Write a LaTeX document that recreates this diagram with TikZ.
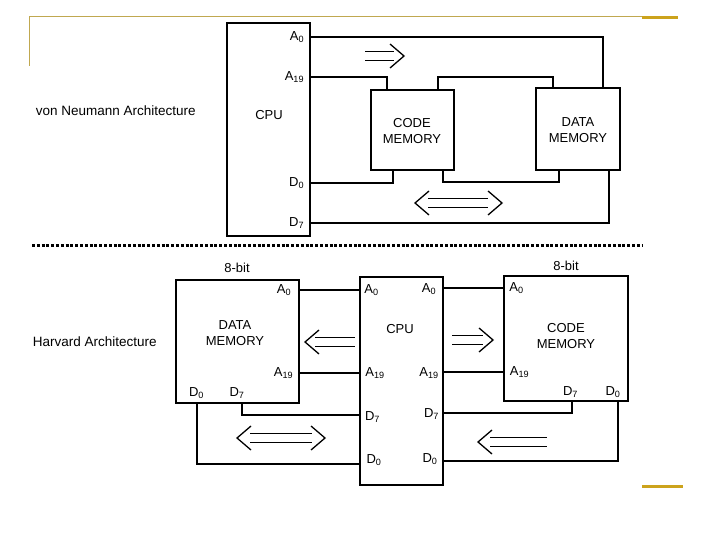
\documentclass[tikz,border=0pt]{standalone}
\usepackage{fontspec}
\setmainfont{Liberation Sans}
\definecolor{slidegold}{RGB}{204,163,28}
\definecolor{slideline}{RGB}{192,168,80}

\begin{document}
\begin{tikzpicture}[x=1pt, y=-1pt, line width=1.8pt,
        box/.style={draw, line width=2pt, inner sep=0pt},
        txt/.style={align=center, inner sep=0pt, font=\fontsize{13}{16}\selectfont},
        pin/.style={inner sep=0pt, font=\fontsize{13}{15}\selectfont},
        ttl/.style={anchor=west, inner sep=0pt, font=\fontsize{13.5}{16}\selectfont},
        bus/.style={line width=1.8pt},
        shaft/.style={double, double distance=7.5pt, line width=1.3pt},
        head/.style={line width=1.3pt},
        sep/.style={line width=3pt, dash pattern=on 3pt off 1.8pt}]

    \useasboundingbox (0,0) rectangle (720,540);

    % --- ramka slajdu ---
    \draw[slideline, line width=1pt] (29,66) -- (29,17) -- (642,17);
    \draw[slidegold, line width=3pt] (642,17.5) -- (678,17.5);
    \draw[slidegold, line width=3pt] (642,486) -- (683,486);

    % --- von Neumann: bloki ---
    \node[ttl] (vnT) at (35,111) {von Neumann Architecture};
    \node[box, minimum width=83pt, minimum height=213pt] (cpuT) at (268.5,129.5) {};
    \node[box, minimum width=83pt, minimum height=80pt] (codeT) at (412.5,130) {};
    \node[box, minimum width=84pt, minimum height=82pt] (dataT) at (578,129) {};
    \node[txt] (cpuTtxt) at (269,115) {CPU};
    \node[txt] (codeTtxt) at (412,131) {CODE\\MEMORY};
    \node[txt] (dataTtxt) at (578,130) {DATA\\MEMORY};

    % --- von Neumann: wyprowadzenia CPU ---
    \foreach \n/\t/\y in {a0T/A\textsubscript{0}/37, a19T/A\textsubscript{19}/77,
                          d0T/D\textsubscript{0}/183, d7T/D\textsubscript{7}/223} {
        \node[pin, anchor=east] (\n) at (305,\y) {\t};
    }

    % --- von Neumann: magistrale ---
    \coordinate (a0bend) at (603,37);
    \coordinate (a19bend) at (387,77);
    \coordinate (d0bend) at (393,183);
    \coordinate (d7bend) at (609,223);
    \coordinate (lnkA1) at (438,77);
    \coordinate (lnkA2) at (553,77);
    \coordinate (lnkB1) at (443,182);
    \coordinate (lnkB2) at (559,182);
    \draw[bus] (cpuT.east |- a0T) -| (dataT.north -| a0bend);
    \draw[bus] (cpuT.east |- a19T) -| (codeT.north -| a19bend);
    \draw[bus] (codeT.north -| lnkA1) -- (lnkA1) -- (lnkA2) -- (dataT.north -| lnkA2);
    \draw[bus] (cpuT.east |- d0T) -| (codeT.south -| d0bend);
    \draw[bus] (codeT.south -| lnkB1) -- (lnkB1) -- (lnkB2) -- (dataT.south -| lnkB2);
    \draw[bus] (cpuT.east |- d7T) -| (dataT.south -| d7bend);

    % --- separator ---
    \coordinate (sepL) at (32,245);
    \coordinate (sepR) at (642,245);
    \draw[sep] (sepL) -- (sepR);

    % --- Harvard: bloki ---
    \node[ttl] (hvH) at (32,342) {Harvard Architecture};
    \node[box, minimum width=123pt, minimum height=123pt] (dataH) at (237.5,341.5) {};
    \node[box, minimum width=83pt, minimum height=208pt] (cpuH) at (401.5,381) {};
    \node[box, minimum width=124pt, minimum height=125pt] (codeH) at (566,338.5) {};
    \node[txt] (dataHtxt) at (235,333) {DATA\\MEMORY};
    \node[txt] (cpuHtxt) at (400,329) {CPU};
    \node[txt] (codeHtxt) at (566,336) {CODE\\MEMORY};
    \node[txt] (bitD) at (237,268) {8-bit};
    \node[txt] (bitC) at (566,266) {8-bit};

    % --- Harvard: wyprowadzenia ---
    \foreach \n/\t/\x/\y in {a0D/A\textsubscript{0}/284/290, a19D/A\textsubscript{19}/283.5/373,
                             d0D/D\textsubscript{0}/196.5/393, d7D/D\textsubscript{7}/237/393,
                             a0L/A\textsubscript{0}/371.5/290, a19L/A\textsubscript{19}/375/373,
                             d7L/D\textsubscript{7}/372.5/417, d0L/D\textsubscript{0}/374/460,
                             a0R/A\textsubscript{0}/429/289, a19R/A\textsubscript{19}/429/373,
                             d7R/D\textsubscript{7}/431.5/414, d0R/D\textsubscript{0}/430/459,
                             a0C/A\textsubscript{0}/516.5/288, a19C/A\textsubscript{19}/519.5/372,
                             d7C/D\textsubscript{7}/570.5/392, d0C/D\textsubscript{0}/613/392} {
        \node[pin] (\n) at (\x,\y) {\t};
    }

    % --- Harvard: magistrale ---
    \coordinate (d7Dbend) at (242,415);
    \coordinate (d0Dbend) at (197,464);
    \coordinate (d7Cbend) at (572,413);
    \coordinate (d0Cbend) at (618,461);
    \draw[bus] (dataH.east |- a0D) -- (cpuH.west |- a0D);
    \draw[bus] (dataH.east |- a19D) -- (cpuH.west |- a19D);
    \draw[bus] (dataH.south -| d7Dbend) |- (cpuH.west |- d7Dbend);
    \draw[bus] (dataH.south -| d0Dbend) |- (cpuH.west |- d0Dbend);
    \draw[bus] (cpuH.east |- a0C) -- (codeH.west |- a0C);
    \draw[bus] (cpuH.east |- a19C) -- (codeH.west |- a19C);
    \draw[bus] (cpuH.east |- d7Cbend) -| (codeH.south -| d7Cbend);
    \draw[bus] (cpuH.east |- d0Cbend) -| (codeH.south -| d0Cbend);

    % --- strzałki kierunku przepływu ---
    \foreach \xa/\xb/\y in {365/394/56, 428/488/203, 315/355/342, 250/312/438, 452/483/340, 490/547/442} {
        \draw[shaft] (\xa,\y) -- (\xb,\y);
    }
    \foreach \x/\y in {404/56, 502/203, 325/438, 493/340} {
        \draw[head] ({\x-14},{\y-12}) -- (\x,\y) -- ({\x-14},{\y+12});
    }
    \foreach \x/\y in {415/203, 305/342, 237/438, 478/442} {
        \draw[head] ({\x+14},{\y-12}) -- (\x,\y) -- ({\x+14},{\y+12});
    }

\end{tikzpicture}
\end{document}
